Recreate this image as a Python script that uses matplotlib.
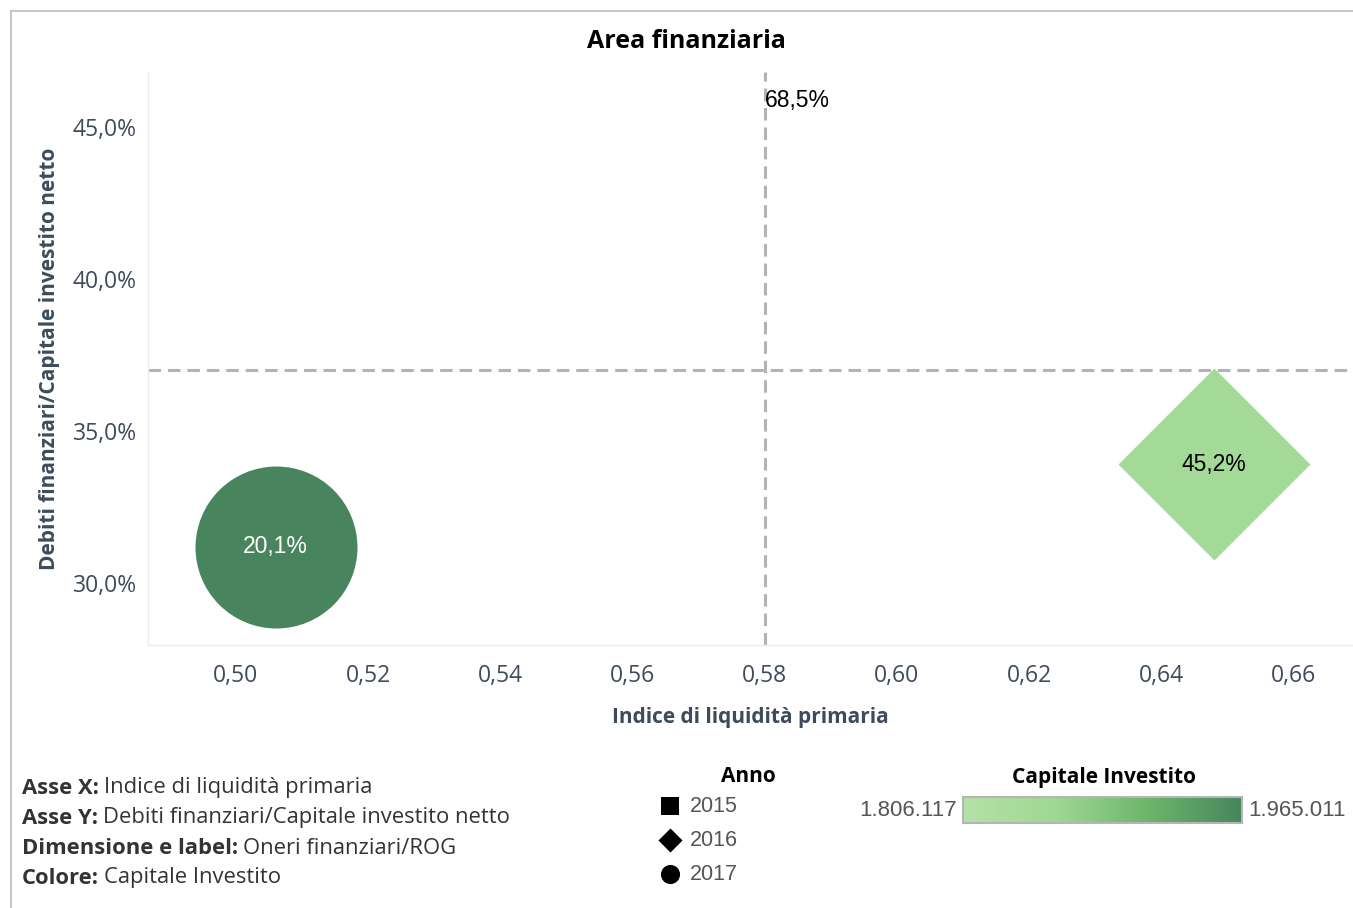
import matplotlib
matplotlib.use("Agg")
import matplotlib.pyplot as plt
from matplotlib.colors import LinearSegmentedColormap, Normalize
from matplotlib.ticker import FixedLocator, FuncFormatter
import numpy as np

# ---------------- data ----------------
years = ["2015", "2016", "2017"]
year_markers = ["s", "D", "o"]
liquidity_index = [0.585, 0.648, 0.506]          # Indice di liquidità primaria
debt_ratio_pct = [45.86, 33.9, 31.2]             # Debiti finanziari/Capitale investito netto (%)
oneri_rog_pct = [68.5, 45.2, 20.1]               # Oneri finanziari/ROG (%)
capitale_investito = [1806117, 1850000, 1965011]
cap_min, cap_max = 1806117, 1965011
ref_x = 0.58
ref_y = 37.0
x_ticks = [0.50, 0.52, 0.54, 0.56, 0.58, 0.60, 0.62, 0.64, 0.66]
y_ticks = [30.0, 35.0, 40.0, 45.0]

# ---------------- style ----------------
W, H, DPI = 1353, 908, 100
marker_area_pt2 = [4, 9550, 13600]
cmap = LinearSegmentedColormap.from_list(
    "tabgreen", ["#b5e1a8", "#9fd894", "#6db56a", "#48855e"])
norm = Normalize(cap_min, cap_max)
axis_col = "#3d4b5c"
REG = ["Open Sans", "DejaVu Sans"]
BOLD = ["Open Sans", "DejaVu Sans"]
ARIAL = ["Liberation Sans", "DejaVu Sans"]
plt.rcParams["font.family"] = REG
plt.rcParams["lines.scale_dashes"] = False

fig = plt.figure(figsize=(W / DPI, H / DPI), dpi=DPI)

def fx(px):
    return px / W

def fy(py):
    return 1 - py / H

ax = fig.add_axes([fx(148), fy(645), fx(1353 - 148), (645 - 72) / H])
ax.set_xlim(0.4867, 0.669)
ax.set_ylim(27.96, 46.81)

for sp in ["top", "right"]:
    ax.spines[sp].set_visible(False)
for sp in ["left", "bottom"]:
    ax.spines[sp].set_color("#ebebeb")
    ax.spines[sp].set_linewidth(1.0)

ax.xaxis.set_major_locator(FixedLocator(x_ticks))
ax.yaxis.set_major_locator(FixedLocator(y_ticks))
ax.xaxis.set_major_formatter(FuncFormatter(lambda v, p: f"{v:.2f}".replace(".", ",")))
ax.yaxis.set_major_formatter(FuncFormatter(lambda v, p: f"{v:.1f}%".replace(".", ",")))
ax.tick_params(axis="both", length=0, labelsize=16.5, labelcolor=axis_col)
ax.tick_params(axis="x", pad=14)
ax.tick_params(axis="y", pad=8)

ax.set_xlabel("Indice di liquidità primaria", fontsize=15, fontweight="bold",
              color=axis_col, labelpad=13, family=BOLD)
ax.set_ylabel("Debiti finanziari/Capitale investito netto", fontsize=15,
              fontweight="bold", color=axis_col, labelpad=9, family=BOLD)

# reference lines
ax.axvline(ref_x, color="#b3b3b3", lw=2.2, dashes=(9, 5), zorder=1)
ax.axhline(ref_y, color="#b3b3b3", lw=2.2, dashes=(9, 5), zorder=1)

# marks
for i in range(len(years)):
    col = cmap(norm(capitale_investito[i]))
    ax.scatter([liquidity_index[i]], [debt_ratio_pct[i]], s=marker_area_pt2[i],
               marker=year_markers[i], color=col, linewidths=0, zorder=3)
    lum = 0.299 * col[0] + 0.587 * col[1] + 0.114 * col[2]
    tcol = "white" if lum < 0.55 else "black"
    ax.text(liquidity_index[i], debt_ratio_pct[i],
            f"{oneri_rog_pct[i]:.1f}%".replace(".", ","),
            ha="center", va="center", fontsize=16.5, color=tcol, zorder=4,
            family=ARIAL)

# title
fig.text(fx(686), fy(41), "Area finanziaria", ha="center", va="center",
         fontsize=18, fontweight="bold", color="black", family=BOLD)

# outer frame lines
fig.add_artist(plt.Line2D([fx(11), fx(11)], [fy(11), 0], color="#c8c8c8", lw=1.5))
fig.add_artist(plt.Line2D([fx(11), 1], [fy(11), fy(11)], color="#c8c8c8", lw=1.5))

# footnote
notes = [("Asse X:", "Indice di liquidità primaria"),
         ("Asse Y:", "Debiti finanziari/Capitale investito netto"),
         ("Dimensione e label:", "Oneri finanziari/ROG"),
         ("Colore:", "Capitale Investito")]
renderer = fig.canvas.get_renderer()
for k, (b, r) in enumerate(notes):
    y = fy(788 + 30 * k)
    t = fig.text(fx(22), y, b, ha="left", va="center", fontsize=15.8,
                 fontweight="bold", color="#333333", family=BOLD)
    bb = t.get_window_extent(renderer=renderer)
    fig.text(bb.x1 / W + fx(5), y, r, ha="left", va="center", fontsize=15.8,
             color="#333333")

# shape legend
lax = fig.add_axes([0, 0, 1, 1], facecolor="none")
lax.set_xlim(0, W)
lax.set_ylim(H, 0)
lax.axis("off")
lax.text(748, 776, "Anno", ha="center", va="center", fontsize=15,
         fontweight="bold", color="black", family=BOLD)
leg_sizes = [150, 150, 190]
for k, yr in enumerate(years):
    yy = 806 + 34 * k
    lax.scatter([670], [yy], marker=year_markers[k], s=leg_sizes[k], color="black",
                linewidths=0)
    lax.text(690, yy, yr, ha="left", va="center", fontsize=15.5, color="#555555",
             family=ARIAL)

# color legend
lax.text(1104, 778, "Capitale Investito", ha="center", va="center", fontsize=15,
         fontweight="bold", color="black", family=BOLD)
cax = fig.add_axes([fx(963), fy(823), fx(1242 - 963), 26 / H])
grad = np.linspace(cap_min, cap_max, 256).reshape(1, -1)
cax.imshow(grad, aspect="auto", cmap=cmap, norm=norm)
cax.set_xticks([])
cax.set_yticks([])
for sp in cax.spines.values():
    sp.set_color("#b5b5b5")
    sp.set_linewidth(1.5)

def fmt_it(v):
    return f"{v:,}".replace(",", ".")

lax.text(957, 810, fmt_it(cap_min), ha="right", va="center", fontsize=16,
         color="#555555", family=ARIAL)
lax.text(1248, 810, fmt_it(cap_max), ha="left", va="center", fontsize=16,
         color="#555555", family=ARIAL)

fig.savefig("out.png", dpi=DPI)
